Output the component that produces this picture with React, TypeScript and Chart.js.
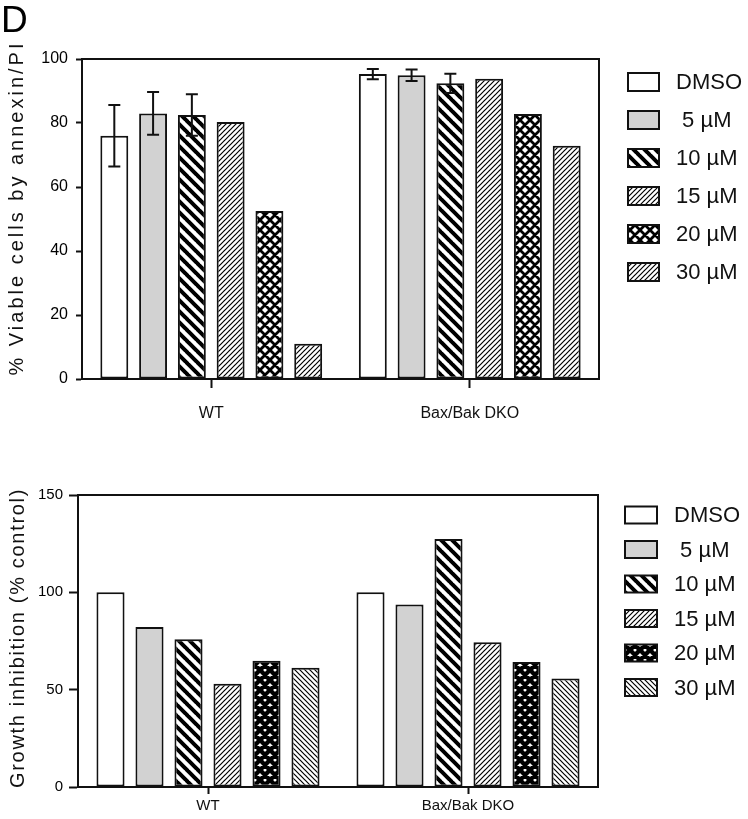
import React, { useEffect, useRef } from "react";
import { Chart, registerables } from "chart.js";
Chart.register(...registerables);

// ---------- data ----------
const groups = ["WT", "Bax/Bak DKO"];
const seriesLabels = ["DMSO", " 5 µM", "10 µM", "15 µM", "20 µM", "30 µM"];

// top panel: % viable cells by annexin/PI
const viableDMSO = [76, 95.3];
const viable5 = [83, 94.9];
const viable10 = [82.5, 92.4];
const viable15 = [80.3, 93.8];
const viable20 = [52.5, 82.8];
const viable30 = [11, 72.9];
const viableErrDMSO = [9.6, 1.6];
const viableErr5 = [6.7, 1.8];
const viableErr10 = [6.5, 3.0];
const viableTicks = [0, 20, 40, 60, 80, 100];

// bottom panel: growth inhibition (% control)
const growthDMSO = [100, 100];
const growth5 = [82.2, 93.8];
const growth10 = [75.9, 127.4];
const growth15 = [53.1, 74.3];
const growth20 = [64.9, 64.2];
const growth30 = [61.3, 55.7];
const growthTicks = [0, 50, 100, 150];

const topTitle = "% Viable cells by annexin/PI";
const bottomTitle = "Growth inhibition (% control)";
const panelLetter = "D";

const FONT = "'Liberation Sans', Arial, sans-serif";
const INK = "#111";

function hatch(kind: string): any {
  if (kind === "white") return "#ffffff";
  if (kind === "gray") return "#d2d2d2";
  const c = document.createElement("canvas");
  let s = 10;
  if (kind === "fineF" || kind === "fineB") s = 5;
  if (kind === "bold") s = 11;
  c.width = s;
  c.height = s;
  const g = c.getContext("2d")!;
  g.fillStyle = "#fff";
  g.fillRect(0, 0, s, s);
  g.strokeStyle = "#000";
  const back = () => {
    for (const k of [-s, 0, s]) {
      g.moveTo(k - 1, -1);
      g.lineTo(k + s + 1, s + 1);
    }
  };
  const fwd = () => {
    for (const k of [0, s, 2 * s]) {
      g.moveTo(k + 1, -1);
      g.lineTo(k - s - 1, s + 1);
    }
  };
  g.beginPath();
  if (kind === "bold") {
    g.lineWidth = 4;
    back();
  } else if (kind === "fineF") {
    g.lineWidth = 1.2;
    fwd();
  } else if (kind === "fineB") {
    g.lineWidth = 1.2;
    back();
  } else if (kind === "cross") {
    g.lineWidth = 2.8;
    back();
    fwd();
  } else if (kind === "crossDark") {
    g.lineWidth = 4.4;
    back();
    fwd();
  }
  g.stroke();
  return g.createPattern(c, "repeat");
}

const framePlugin = {
  id: "frame",
  afterDatasetsDraw(chart: any) {
    const a = chart.chartArea;
    const ctx = chart.ctx;
    ctx.save();
    ctx.strokeStyle = INK;
    ctx.lineWidth = 2;
    ctx.strokeRect(a.left, a.top, a.right - a.left, a.bottom - a.top);
    ctx.restore();
  },
};

const errPlugin = {
  id: "errbars",
  afterDatasetsDraw(chart: any) {
    const ctx = chart.ctx;
    const ys = chart.scales.y;
    ctx.save();
    ctx.strokeStyle = INK;
    ctx.lineWidth = 2;
    chart.data.datasets.forEach((ds: any, i: number) => {
      if (!ds.errors) return;
      const meta = chart.getDatasetMeta(i);
      meta.data.forEach((el: any, j: number) => {
        const e = ds.errors[j];
        if (e == null) return;
        const v = ds.data[j];
        const t = ys.getPixelForValue(v + e);
        const b = ys.getPixelForValue(v - e);
        const x = el.x;
        ctx.beginPath();
        ctx.moveTo(x, t);
        ctx.lineTo(x, b);
        ctx.moveTo(x - 6, t);
        ctx.lineTo(x + 6, t);
        ctx.moveTo(x - 6, b);
        ctx.lineTo(x + 6, b);
        ctx.stroke();
      });
    });
    ctx.restore();
  },
};

const decoPlugin = {
  id: "deco",
  afterDraw(chart: any) {
    const o = chart.options.plugins.deco;
    const ctx = chart.ctx;
    // legend
    ctx.save();
    chart.data.datasets.forEach((ds: any, i: number) => {
      const cy = o.legY + i * o.legStep;
      ctx.fillStyle = ds.backgroundColor;
      ctx.fillRect(o.legX, cy - o.boxH / 2, o.boxW, o.boxH);
      ctx.strokeStyle = INK;
      ctx.lineWidth = 2;
      ctx.strokeRect(o.legX, cy - o.boxH / 2, o.boxW, o.boxH);
      ctx.fillStyle = INK;
      ctx.font = `${o.legFont}px ${FONT}`;
      ctx.textBaseline = "middle";
      ctx.textAlign = "left";
      ctx.fillText(ds.label, o.textX, cy + 1);
    });
    ctx.restore();
    // y title
    ctx.save();
    ctx.font = `${o.titleFont}px ${FONT}`;
    ctx.fillStyle = INK;
    const w0 = ctx.measureText(o.title).width;
    const n = o.title.length;
    const ls = (o.titleLen - w0) / n;
    (ctx as any).letterSpacing = `${ls}px`;
    ctx.translate(o.titleX, o.titleY);
    ctx.rotate(-Math.PI / 2);
    ctx.textBaseline = "middle";
    ctx.textAlign = "left";
    ctx.fillText(o.title, -o.titleLen / 2, 0);
    ctx.restore();
    if (o.letter) {
      ctx.save();
      ctx.font = `37px ${FONT}`;
      ctx.fillStyle = "#000";
      ctx.textBaseline = "alphabetic";
      ctx.fillText(o.letter, 1, 32);
      ctx.restore();
    }
  },
};

function buildChart(canvas: HTMLCanvasElement, p: any) {
  const datasets = p.series.map((d: number[], i: number) => ({
    label: seriesLabels[i],
    data: d,
    errors: p.errors ? p.errors[i] : undefined,
    backgroundColor: hatch(p.fills[i]),
    borderColor: INK,
    borderWidth: 2,
    borderSkipped: false,
    categoryPercentage: 0.9,
    barPercentage: 0.72,
  }));
  return new Chart(canvas, {
    type: "bar",
    data: { labels: groups, datasets },
    plugins: [framePlugin, errPlugin, decoPlugin],
    options: {
      responsive: false,
      animation: false,
      devicePixelRatio: 1,
      events: [],
      layout: { padding: { left: 0, top: p.padTop, right: p.padRight, bottom: 0 } },
      plugins: {
        legend: { display: false },
        tooltip: { enabled: false },
        deco: p.deco,
      } as any,
      scales: {
        x: {
          type: "category",
          grid: {
            offset: false,
            drawOnChartArea: false,
            tickLength: p.xTickLen,
            tickWidth: 2,
            tickColor: INK,
          },
          border: { color: INK, width: 2 },
          ticks: {
            color: INK,
            padding: p.xPad,
            font: { family: FONT, size: p.xFont },
            maxRotation: 0,
          },
          afterFit: (s: any) => {
            s.height = p.xHeight;
          },
        },
        y: {
          min: 0,
          max: p.yMax,
          grid: {
            drawOnChartArea: false,
            tickLength: p.yTickLen,
            tickWidth: 2,
            tickColor: INK,
          },
          border: { color: INK, width: 2 },
          ticks: {
            color: "#000",
            padding: p.yPad,
            font: { family: FONT, size: p.yFont },
          },
          afterBuildTicks: (s: any) => {
            s.ticks = p.ticks.map((v: number) => ({ value: v }));
          },
          afterFit: (s: any) => {
            s.width = p.yWidth;
          },
        },
      } as any,
    },
  } as any);
}

export default function App() {
  const topRef = useRef<HTMLCanvasElement>(null);
  const botRef = useRef<HTMLCanvasElement>(null);

  useEffect(() => {
    const c1 = buildChart(topRef.current!, {
      series: [viableDMSO, viable5, viable10, viable15, viable20, viable30],
      errors: [viableErrDMSO, viableErr5, viableErr10, null, null, null],
      fills: ["white", "gray", "bold", "fineF", "cross", "fineF"],
      ticks: viableTicks,
      yMax: 100,
      padTop: 59,
      padRight: 149,
      xHeight: 61,
      yWidth: 82,
      xTickLen: 9,
      xPad: 16,
      xFont: 16,
      yTickLen: 6,
      yPad: 8,
      yFont: 16,
      deco: {
        legX: 628,
        legY: 82,
        legStep: 38,
        boxW: 31,
        boxH: 18,
        textX: 676,
        legFont: 22,
        title: topTitle,
        titleX: 17,
        titleY: 208,
        titleLen: 335,
        titleFont: 20,
        letter: panelLetter,
      },
    });
    const c2 = buildChart(botRef.current!, {
      series: [growthDMSO, growth5, growth10, growth15, growth20, growth30],
      errors: null,
      fills: ["white", "gray", "bold", "fineF", "crossDark", "fineB"],
      ticks: growthTicks,
      yMax: 150,
      padTop: 55,
      padRight: 150,
      xHeight: 32,
      yWidth: 78,
      xTickLen: 7,
      xPad: 3,
      xFont: 15,
      yTickLen: 9,
      yPad: 6,
      yFont: 15,
      deco: {
        legX: 625,
        legY: 75,
        legStep: 34.5,
        boxW: 32,
        boxH: 17,
        textX: 674,
        legFont: 22,
        title: bottomTitle,
        titleX: 18,
        titleY: 198,
        titleLen: 300,
        titleFont: 20,
        letter: null,
      },
    });
    return () => {
      c1.destroy();
      c2.destroy();
    };
  }, []);

  return (
    <div
      style={{
        position: "absolute",
        left: 0,
        top: 0,
        width: 748,
        height: 819,
        background: "#fff",
      }}
    >
      <canvas
        ref={topRef}
        width={748}
        height={440}
        style={{ position: "absolute", left: 0, top: 0, width: 748, height: 440 }}
      />
      <canvas
        ref={botRef}
        width={748}
        height={379}
        style={{ position: "absolute", left: 0, top: 440, width: 748, height: 379 }}
      />
    </div>
  );
}
